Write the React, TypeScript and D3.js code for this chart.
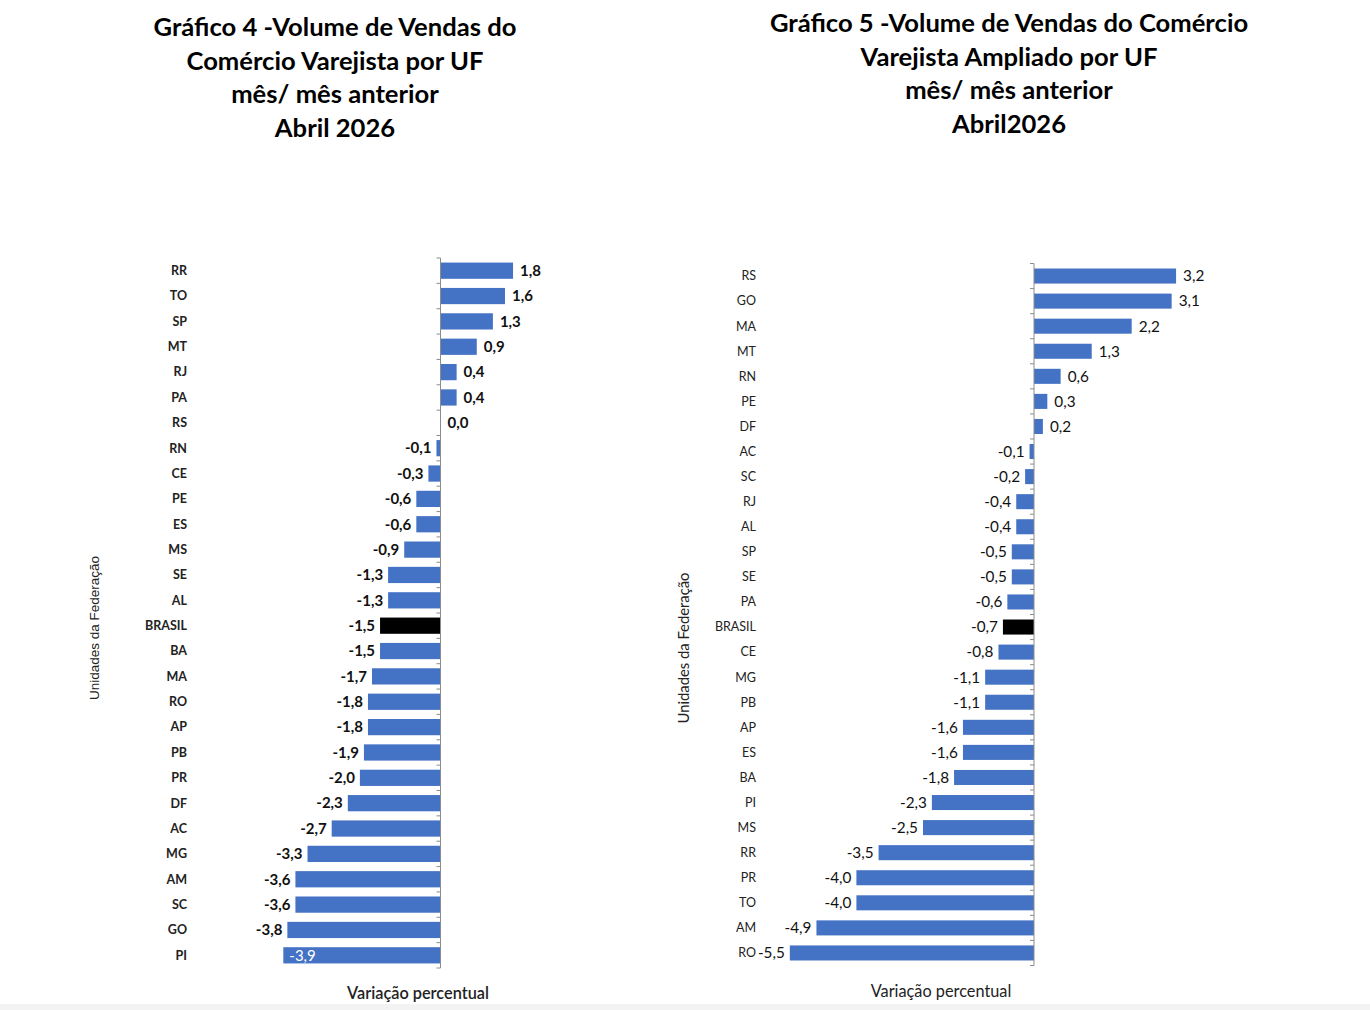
import React from 'react';
import * as d3 from 'd3';

// Gráfico 4 - comércio varejista
const UF_VAREJO = ['RR', 'TO', 'SP', 'MT', 'RJ', 'PA', 'RS', 'RN', 'CE', 'PE', 'ES', 'MS', 'SE', 'AL', 'BRASIL', 'BA', 'MA', 'RO', 'AP', 'PB', 'PR', 'DF', 'AC', 'MG', 'AM', 'SC', 'GO', 'PI'];
const VAL_VAREJO = [1.8, 1.6, 1.3, 0.9, 0.4, 0.4, 0.0, -0.1, -0.3, -0.6, -0.6, -0.9, -1.3, -1.3, -1.5, -1.5, -1.7, -1.8, -1.8, -1.9, -2.0, -2.3, -2.7, -3.3, -3.6, -3.6, -3.8, -3.9];
const TITLE_VAREJO = ['Gráfico 4 -Volume de Vendas do', 'Comércio Varejista por UF', 'mês/ mês anterior', 'Abril 2026'];

// Gráfico 5 - comércio varejista ampliado
const UF_AMPLIADO = ['RS', 'GO', 'MA', 'MT', 'RN', 'PE', 'DF', 'AC', 'SC', 'RJ', 'AL', 'SP', 'SE', 'PA', 'BRASIL', 'CE', 'MG', 'PB', 'AP', 'ES', 'BA', 'PI', 'MS', 'RR', 'PR', 'TO', 'AM', 'RO'];
const VAL_AMPLIADO = [3.2, 3.1, 2.2, 1.3, 0.6, 0.3, 0.2, -0.1, -0.2, -0.4, -0.4, -0.5, -0.5, -0.6, -0.7, -0.8, -1.1, -1.1, -1.6, -1.6, -1.8, -2.3, -2.5, -3.5, -4.0, -4.0, -4.9, -5.5];
const TITLE_AMPLIADO = ['Gráfico 5 -Volume de Vendas do Comércio', 'Varejista Ampliado por UF', 'mês/ mês anterior', 'Abril2026'];

const BLUE = '#4472c4';
const FONT = 'Lato, "Open Sans", sans-serif';
const fmt = (v: number) => v.toFixed(1).replace('.', ',');

type ChartProps = {
  ufs: string[];
  values: number[];
  title: string[];
  titleX: number;
  titleY: number;
  zeroX: number;
  pxPerUnit: number;
  top: number;
  bottom: number;
  padding: number;
  labelX: number;
  yTitleX: number;
  yTitleY: number;
  yTitleSize: number;
  xTitleX: number;
  valueSize: number;
  bold: boolean;
  insideLabel?: string;
};

function Chart(p: ChartProps) {
  const x = d3.scaleLinear()
    .domain([-6, 4])
    .range([p.zeroX - 6 * p.pxPerUnit, p.zeroX + 4 * p.pxPerUnit]);
  const y = d3.scaleBand<string>()
    .domain(p.ufs)
    .range([p.top, p.bottom])
    .paddingInner(p.padding)
    .paddingOuter(p.padding / 2);

  const step = y.step();
  const bounds = p.ufs.map(u => y(u)! - (step * p.padding) / 2);
  bounds.push(p.bottom);
  const weight = p.bold ? 700 : 400;

  return (
    <g fontFamily={FONT}>
      {p.title.map((t, i) => (
        <text key={i} x={p.titleX} y={p.titleY + i * 33.5} textAnchor="middle"
          fontSize={25.6} fontWeight={700} fill="#000">{t}</text>
      ))}

      {p.ufs.map((u, i) => {
        const v = p.values[i];
        const x0 = x(Math.min(0, v));
        const w = Math.abs(x(v) - x(0));
        const cy = y(u)! + y.bandwidth() / 2;
        const inside = p.insideLabel === u;
        return (
          <g key={u}>
            <rect x={x0} y={y(u)} width={w} height={y.bandwidth()}
              fill={u === 'BRASIL' ? '#000' : BLUE} />
            <text x={p.labelX} y={cy} dy="0.35em" textAnchor="end"
              fontSize={12.5} fontWeight={weight} fill="#222">{u}</text>
            {inside ? (
              <text x={x(v) + 6} y={cy} dy="0.35em" fontSize={p.valueSize}
                fill="#fff">{fmt(v)}</text>
            ) : (
              <text x={v < 0 ? x(v) - 5 : x(v) + 7} y={cy} dy="0.35em"
                textAnchor={v < 0 ? 'end' : 'start'} fontSize={p.valueSize}
                fontWeight={weight} fill="#111">{fmt(v)}</text>
            )}
          </g>
        );
      })}

      <line x1={x(0)} x2={x(0)} y1={p.top} y2={p.bottom} stroke="#8c8c8c" strokeWidth={1} />
      {bounds.map((b, i) => (
        <line key={i} x1={x(0) - 4} x2={x(0)} y1={b} y2={b} stroke="#8c8c8c" strokeWidth={1} />
      ))}

      <text transform={`translate(${p.yTitleX},${p.yTitleY}) rotate(-90)`} textAnchor="middle"
        fontSize={p.yTitleSize} fontFamily={p.bold ? 'Liberation Sans, Arial, sans-serif' : FONT}
        fill="#222">Unidades da Federação</text>
      <text x={p.xTitleX} y={p.bottom + 31} textAnchor="middle" fontSize={16.3}
        fontWeight={p.bold ? 600 : 400} fill="#222">Variação percentual</text>
    </g>
  );
}

export default function App() {
  return (
    <svg width={1370} height={1010} style={{ position: 'absolute', left: 0, top: 0, background: '#fff' }}>
      <rect width={1370} height={1010} fill="#fff" />
      <rect y={1004} width={1370} height={6} fill="#f3f3f3" />
      <Chart ufs={UF_VAREJO} values={VAL_VAREJO} title={TITLE_VAREJO}
        titleX={335} titleY={36} zeroX={440.5} pxPerUnit={40.3}
        top={258} bottom={968} padding={0.36} labelX={187}
        yTitleX={99} yTitleY={628} yTitleSize={13.5} xTitleX={418}
        valueSize={15} bold={true} insideLabel="PI" />
      <Chart ufs={UF_AMPLIADO} values={VAL_AMPLIADO} title={TITLE_AMPLIADO}
        titleX={1009} titleY={32} zeroX={1034} pxPerUnit={44.4}
        top={263.5} bottom={965.5} padding={0.4} labelX={756}
        yTitleX={689} yTitleY={648} yTitleSize={14.8} xTitleX={941}
        valueSize={15.3} bold={false} />
    </svg>
  );
}
